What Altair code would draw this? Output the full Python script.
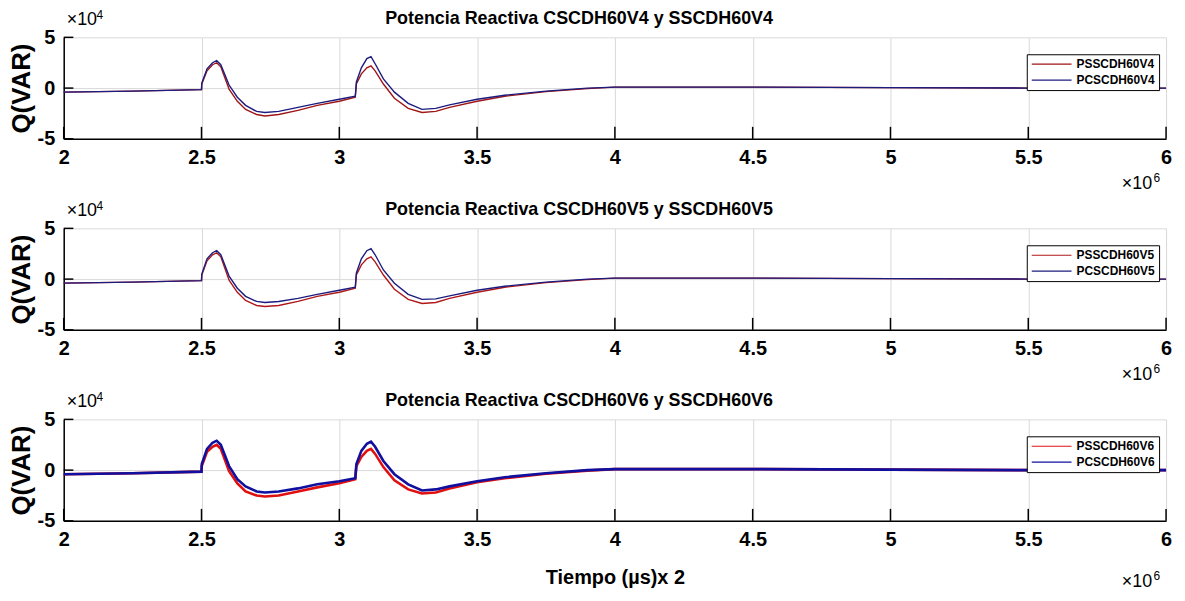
import altair as alt
import pandas as pd

# time axis (x 10^6)
t_vals = [2.0, 2.25, 2.5, 2.501, 2.52, 2.54, 2.555, 2.57, 2.6, 2.63, 2.66, 2.7, 2.73, 2.78,
          2.85, 2.92, 3.0, 3.058, 3.062, 3.08, 3.1, 3.115, 3.13, 3.16, 3.2, 3.25, 3.3, 3.35,
          3.4, 3.5, 3.6, 3.75, 3.9, 4.0, 4.2, 4.5, 5.0, 5.5, 6.0]

# reactive power (x 10^4)
ps_v4 = [-0.4, -0.3, -0.15, 0.4, 1.7, 2.3, 2.5, 2.1, -0.1, -1.3, -2.1, -2.6, -2.75, -2.6,
         -2.2, -1.7, -1.3, -0.9, 0.4, 1.4, 2.0, 2.2, 1.7, 0.4, -1.0, -2.0, -2.4, -2.3,
         -1.9, -1.3, -0.8, -0.35, -0.05, 0.1, 0.1, 0.1, 0.05, 0.0, 0.0]
pc_v4 = [-0.4, -0.3, -0.15, 0.5, 1.9, 2.5, 2.7, 2.3, 0.3, -0.9, -1.7, -2.3, -2.4, -2.3,
         -1.9, -1.5, -1.1, -0.8, 0.6, 2.0, 2.9, 3.1, 2.4, 0.9, -0.4, -1.5, -2.1, -2.0,
         -1.65, -1.1, -0.7, -0.3, 0.0, 0.1, 0.1, 0.1, 0.05, 0.0, 0.0]
ps_v5 = [-0.4, -0.3, -0.15, 0.4, 1.8, 2.4, 2.6, 2.2, -0.1, -1.3, -2.1, -2.6, -2.7, -2.6,
         -2.2, -1.7, -1.3, -0.9, 0.4, 1.4, 2.0, 2.2, 1.7, 0.4, -1.0, -2.0, -2.4, -2.3,
         -1.9, -1.3, -0.8, -0.35, -0.05, 0.1, 0.1, 0.1, 0.05, 0.0, 0.0]
pc_v5 = [-0.4, -0.3, -0.15, 0.5, 2.0, 2.6, 2.8, 2.4, 0.3, -0.9, -1.7, -2.2, -2.3, -2.2,
         -1.9, -1.5, -1.1, -0.8, 0.6, 2.0, 2.8, 3.0, 2.4, 0.9, -0.4, -1.5, -2.0, -1.95,
         -1.65, -1.1, -0.7, -0.3, 0.0, 0.1, 0.1, 0.1, 0.05, 0.0, 0.0]
ps_v6 = [-0.4, -0.3, -0.15, 0.4, 1.8, 2.3, 2.5, 2.1, -0.1, -1.3, -2.1, -2.5, -2.6, -2.5,
         -2.1, -1.7, -1.3, -0.9, 0.4, 1.3, 1.9, 2.1, 1.6, 0.3, -1.0, -1.9, -2.3, -2.2,
         -1.8, -1.2, -0.8, -0.35, -0.05, 0.1, 0.1, 0.1, 0.05, 0.0, 0.0]
pc_v6 = [-0.4, -0.3, -0.15, 0.6, 2.1, 2.7, 2.9, 2.5, 0.4, -0.9, -1.6, -2.1, -2.2, -2.1,
         -1.8, -1.4, -1.1, -0.8, 0.6, 1.9, 2.6, 2.8, 2.3, 0.9, -0.4, -1.4, -2.0, -1.9,
         -1.6, -1.1, -0.7, -0.3, 0.0, 0.1, 0.1, 0.1, 0.05, 0.0, 0.0]

x_ticks = [2, 2.5, 3, 3.5, 4, 4.5, 5, 5.5, 6]
y_ticks = [-5, 0, 5]

titles = ["Potencia Reactiva CSCDH60V4 y SSCDH60V4",
          "Potencia Reactiva CSCDH60V5 y SSCDH60V5",
          "Potencia Reactiva CSCDH60V6 y SSCDH60V6"]
ps_names = ["PSSCDH60V4", "PSSCDH60V5", "PSSCDH60V6"]
pc_names = ["PCSCDH60V4", "PCSCDH60V5", "PCSCDH60V6"]
ps_series = [ps_v4, ps_v5, ps_v6]
pc_series = [pc_v4, pc_v5, pc_v6]
red_colors = ["#a01515", "#b01818", "#e01010"]
blue_colors = ["#1c1c80", "#1c1c80", "#1010a0"]
line_widths = [1.4, 1.4, 2.6]

FONT = "Liberation Sans"
W, H = 1108, 102


def txt(s, x, y, size, align="left", weight="normal"):
    return alt.Chart(pd.DataFrame({"s": [s]})).mark_text(
        align=align, baseline="alphabetic", font=FONT, fontSize=size,
        fontWeight=weight, color="black").encode(
        text="s:N", x=alt.value(x), y=alt.value(y))


def panel(i, last):
    n = len(t_vals)
    df = pd.DataFrame({
        "t": t_vals + t_vals,
        "q": ps_series[i] + pc_series[i],
        "serie": [ps_names[i]] * n + [pc_names[i]] * n,
    })
    xscale = alt.Scale(domain=[2, 6], nice=False, zero=False)
    yscale = alt.Scale(domain=[-5, 5], nice=False)
    xaxis = alt.Axis(values=x_ticks, format="~g", grid=True, gridColor="#d9d9d9",
                     domainColor="black", domainWidth=1.5, ticks=False, labelFlush=False,
                     labelFont=FONT, labelFontSize=20, labelFontWeight="bold",
                     labelPadding=9, labelColor="black",
                     title="Tiempo (µs)x 2" if last else None,
                     titleFont=FONT, titleFontSize=20, titleFontWeight="bold",
                     titlePadding=18, titleColor="black")
    yaxis = alt.Axis(values=y_ticks, labelExpr="'' + datum.value", grid=True,
                     gridColor="#d9d9d9", domainColor="black", domainWidth=1.5,
                     ticks=False, labelFont=FONT, labelFontSize=20,
                     labelFontWeight="bold", labelPadding=9, labelColor="black",
                     title="Q(VAR)", titleFont=FONT, titleFontSize=26,
                     titleFontWeight="bold", titlePadding=3, titleColor="black")
    color = alt.Color("serie:N",
                      scale=alt.Scale(domain=[ps_names[i], pc_names[i]],
                                      range=[red_colors[i], blue_colors[i]]),
                      legend=alt.Legend(title=None, orient="none", legendX=968, legendY=17,
                                        strokeColor="black", fillColor="white",
                                        padding=4, symbolType="M-4,0H4", symbolSize=100,
                                        symbolOffset=15, labelOffset=19,
                                        symbolStrokeWidth=1.2, labelFont=FONT,
                                        labelFontSize=12, labelFontWeight="bold",
                                        labelColor="black",
                                        rowPadding=4, labelLimit=200))
    base = alt.Chart(df)
    red = base.transform_filter(alt.datum.serie == ps_names[i]).mark_line(
        strokeWidth=line_widths[i]).encode(
        x=alt.X("t:Q", scale=xscale, axis=xaxis),
        y=alt.Y("q:Q", scale=yscale, axis=yaxis),
        color=color)
    blue = base.transform_filter(alt.datum.serie == pc_names[i]).mark_line(
        strokeWidth=line_widths[i]).encode(
        x=alt.X("t:Q", scale=xscale), y=alt.Y("q:Q", scale=yscale), color=color)

    xt = pd.DataFrame({"t": x_ticks, "y0": [-5] * len(x_ticks), "y1": [-3.82] * len(x_ticks)})
    xtick_rules = alt.Chart(xt).mark_rule(color="black", strokeWidth=1.5).encode(
        x="t:Q", y="y0:Q", y2="y1:Q")
    yt = pd.DataFrame({"q": y_ticks, "x0": [2] * 3, "x1": [2.035] * 3})
    ytick_rules = alt.Chart(yt).mark_rule(color="black", strokeWidth=1.5).encode(
        y="q:Q", x="x0:Q", x2="x1:Q")

    ttl = txt(titles[i], W / 2 - 36, -13, 18, align="center", weight="bold")
    e4a = txt("×10", 3, -12, 18)
    e4b = txt("4", 33, -18, 12)
    yb = H + (66 if last else 50)
    e6a = txt("×10", W - 14, yb, 18, align="right")
    e6b = txt("6", W - 6, yb - 7, 12, align="right")

    return alt.layer(red, blue, xtick_rules, ytick_rules, ttl, e4a, e4b, e6a, e6b).properties(
        width=W, height=H)


chart = alt.vconcat(*[panel(i, i == 2) for i in range(3)], spacing=8).resolve_scale(
    color="independent").configure_view(stroke=None).properties(
    padding={"left": 0, "top": 0, "right": 5, "bottom": 0}, background="white")

chart.save("out.html", embed_options={"renderer": "svg", "actions": False})
